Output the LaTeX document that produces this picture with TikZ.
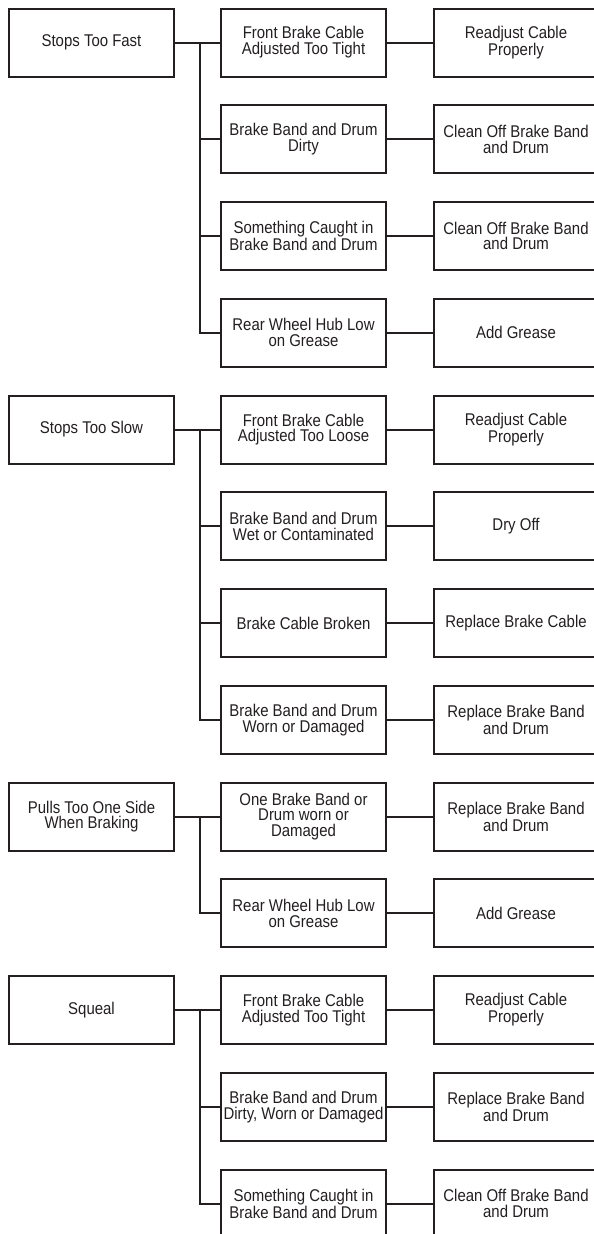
\documentclass[tikz,border=0pt]{standalone}
\usepackage{fontspec}
\setmainfont[FakeStretch=0.88]{Liberation Sans}
\definecolor{ink}{RGB}{35,31,32}
\begin{document}
\begin{tikzpicture}[x=1pt,y=-1pt,
  box/.style={draw=ink, text=ink, line width=2pt, minimum width=165pt, minimum height=68pt,
    inner sep=0pt, align=center, font=\fontsize{17}{15.8}\selectfont},
  sol/.style={box, minimum width=164pt},
  link/.style={draw=ink, line width=2pt}]
\useasboundingbox (0,0) rectangle (594,1234);
% row centres
\foreach \i in {1,...,13}{\pgfmathsetmacro{\c}{42.5+96.75*(\i-1)}\expandafter\xdef\csname rowc\i\endcsname{\c}}
% roots
\node[box] (r1) at (91.5,\csname rowc1\endcsname) {Stops Too Fast};
\node[box] (r2) at (91.5,\csname rowc5\endcsname) {Stops Too Slow};
\node[box] (r3) at (91.5,\csname rowc9\endcsname) {Pulls Too One Side\\When Braking};
\node[box] (r4) at (91.5,\csname rowc11\endcsname) {Squeal};
% causes
\node[box] (a1) at (303.5,\csname rowc1\endcsname) {Front Brake Cable\\Adjusted Too Tight};
\node[box] (a2) at (303.5,\csname rowc2\endcsname) {Brake Band and Drum\\Dirty};
\node[box] (a3) at (303.5,\csname rowc3\endcsname) {Something Caught in\\Brake Band and Drum};
\node[box] (a4) at (303.5,\csname rowc4\endcsname) {Rear Wheel Hub Low\\on Grease};
\node[box] (a5) at (303.5,\csname rowc5\endcsname) {Front Brake Cable\\Adjusted Too Loose};
\node[box] (a6) at (303.5,\csname rowc6\endcsname) {Brake Band and Drum\\Wet or Contaminated};
\node[box] (a7) at (303.5,\csname rowc7\endcsname) {Brake Cable Broken};
\node[box] (a8) at (303.5,\csname rowc8\endcsname) {Brake Band and Drum\\Worn or Damaged};
\node[box] (a9) at (303.5,\csname rowc9\endcsname) {One Brake Band or\\Drum worn or\\Damaged};
\node[box] (a10) at (303.5,\csname rowc10\endcsname) {Rear Wheel Hub Low\\on Grease};
\node[box] (a11) at (303.5,\csname rowc11\endcsname) {Front Brake Cable\\Adjusted Too Tight};
\node[box] (a12) at (303.5,\csname rowc12\endcsname) {Brake Band and Drum\\Dirty, Worn or Damaged};
\node[box] (a13) at (303.5,\csname rowc13\endcsname) {Something Caught in\\Brake Band and Drum};
% remedies
\node[sol] (b1) at (516,\csname rowc1\endcsname) {Readjust Cable\\Properly};
\node[sol] (b2) at (516,\csname rowc2\endcsname) {Clean Off Brake Band\\and Drum};
\node[sol] (b3) at (516,\csname rowc3\endcsname) {Clean Off Brake Band\\and Drum};
\node[sol] (b4) at (516,\csname rowc4\endcsname) {Add Grease};
\node[sol] (b5) at (516,\csname rowc5\endcsname) {Readjust Cable\\Properly};
\node[sol] (b6) at (516,\csname rowc6\endcsname) {Dry Off};
\node[sol] (b7) at (516,\csname rowc7\endcsname) {Replace Brake Cable};
\node[sol] (b8) at (516,\csname rowc8\endcsname) {Replace Brake Band\\and Drum};
\node[sol] (b9) at (516,\csname rowc9\endcsname) {Replace Brake Band\\and Drum};
\node[sol] (b10) at (516,\csname rowc10\endcsname) {Add Grease};
\node[sol] (b11) at (516,\csname rowc11\endcsname) {Readjust Cable\\Properly};
\node[sol] (b12) at (516,\csname rowc12\endcsname) {Replace Brake Band\\and Drum};
\node[sol] (b13) at (516,\csname rowc13\endcsname) {Clean Off Brake Band\\and Drum};
% cause to remedy
\foreach \i in {1,...,13}{\draw[link] (a\i.east) -- (b\i.west);}
% junction coordinates
\coordinate (j1) at (199.5,\csname rowc1\endcsname);
\coordinate (j2) at (199.5,\csname rowc5\endcsname);
\coordinate (j3) at (199.5,\csname rowc9\endcsname);
\coordinate (j4) at (199.5,\csname rowc11\endcsname);
% root to first cause
\draw[link] (r1.east) -- (a1.west);
\draw[link] (r2.east) -- (a5.west);
\draw[link] (r3.east) -- (a9.west);
\draw[link] (r4.east) -- (a11.west);
% trunks
\draw[link] (j1) |- (a4.west);
\draw[link] (j1 |- a2.west) -- (a2.west);
\draw[link] (j1 |- a3.west) -- (a3.west);
\draw[link] (j2) |- (a8.west);
\draw[link] (j2 |- a6.west) -- (a6.west);
\draw[link] (j2 |- a7.west) -- (a7.west);
\draw[link] (j3) |- (a10.west);
\draw[link] (j4) |- (a13.west);
\draw[link] (j4 |- a12.west) -- (a12.west);
\end{tikzpicture}
\end{document}
